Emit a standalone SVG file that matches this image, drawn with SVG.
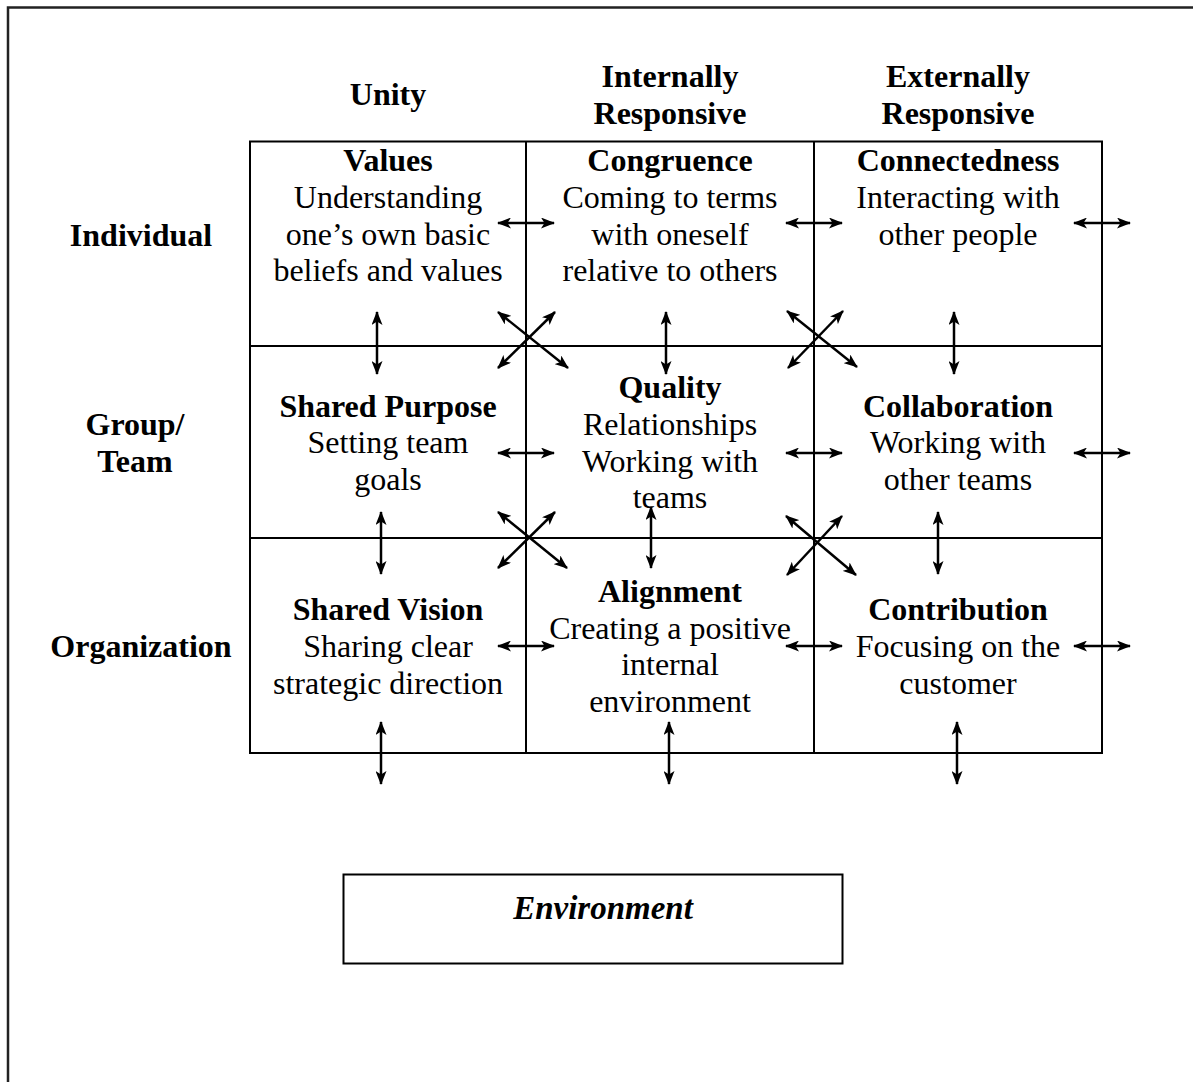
<svg xmlns="http://www.w3.org/2000/svg" width="1193" height="1082" viewBox="0 0 1193 1082">
<style>
text{font-family:"Liberation Serif","Times New Roman",serif;font-size:32px;fill:#000;text-anchor:middle}
.b{font-weight:bold}
.env{font-style:italic;font-weight:bold;font-size:33px}
.grid{stroke:#000;stroke-width:2;fill:none}
.arr{stroke:#000;stroke-width:2.5;fill:none;marker-start:url(#ah);marker-end:url(#ah)}
</style>
<defs>
<marker id="ah" viewBox="0 0 14 11" refX="13" refY="5.5" markerWidth="14" markerHeight="11" markerUnits="userSpaceOnUse" orient="auto-start-reverse">
<path d="M0,0 L14,5.5 L0,11 L3.5,5.5 z" fill="#000"/>
</marker>
</defs>
<rect width="1193" height="1082" fill="#fff"/>
<path d="M8,1082 L8,7.5 L1193,7.5" stroke="#222" stroke-width="2.5" fill="none"/>

<g id="headers">
<text x="388" y="105" class="b">Unity</text>
<text x="670" y="87" class="b">Internally</text>
<text x="670" y="124" class="b">Responsive</text>
<text x="958" y="87" class="b">Externally</text>
<text x="958" y="124" class="b">Responsive</text>
<text x="141" y="246" class="b">Individual</text>
<text x="135" y="435" class="b">Group/</text>
<text x="135" y="472" class="b">Team</text>
<text x="141" y="657" class="b">Organization</text>
</g>

<g id="grid">
<rect class="grid" x="250" y="141.5" width="852" height="611.5"/>
<line class="grid" x1="526" y1="141.5" x2="526" y2="753"/>
<line class="grid" x1="814" y1="141.5" x2="814" y2="753"/>
<line class="grid" x1="250" y1="346" x2="1102" y2="346"/>
<line class="grid" x1="250" y1="538" x2="1102" y2="538"/>
</g>

<g id="values"><text x="388" y="171" class="b">Values</text><text x="388" y="208">Understanding</text><text x="388" y="245">one’s own basic</text><text x="388" y="281">beliefs and values</text></g>
<g id="congruence"><text x="670" y="171" class="b">Congruence</text><text x="670" y="208">Coming to terms</text><text x="670" y="245">with oneself</text><text x="670" y="281">relative to others</text></g>
<g id="connectedness"><text x="958" y="171" class="b">Connectedness</text><text x="958" y="208">Interacting with</text><text x="958" y="245">other people</text></g>

<g id="shared-purpose"><text x="388" y="417" class="b">Shared Purpose</text><text x="388" y="453">Setting team</text><text x="388" y="490">goals</text></g>
<g id="quality"><text x="670" y="398" class="b">Quality</text><text x="670" y="435">Relationships</text><text x="670" y="472">Working with</text><text x="670" y="508">teams</text></g>
<g id="collaboration"><text x="958" y="417" class="b">Collaboration</text><text x="958" y="453">Working with</text><text x="958" y="490">other teams</text></g>

<g id="shared-vision"><text x="388" y="620" class="b">Shared Vision</text><text x="388" y="657">Sharing clear</text><text x="388" y="694">strategic direction</text></g>
<g id="alignment"><text x="670" y="602" class="b">Alignment</text><text x="670" y="639">Creating a positive</text><text x="670" y="675">internal</text><text x="670" y="712">environment</text></g>
<g id="contribution"><text x="958" y="620" class="b">Contribution</text><text x="958" y="657">Focusing on the</text><text x="958" y="694">customer</text></g>

<g id="environment">
<rect x="343.5" y="874.5" width="499" height="89" fill="none" stroke="#000" stroke-width="2"/>
<text x="603" y="919" class="env">Environment</text>
</g>

<g id="connectors">
<line class="arr" x1="498" y1="223" x2="554" y2="223"/>
<line class="arr" x1="786" y1="223" x2="842" y2="223"/>
<line class="arr" x1="1074" y1="223" x2="1130" y2="223"/>
<line class="arr" x1="498" y1="453" x2="554" y2="453"/>
<line class="arr" x1="786" y1="453" x2="842" y2="453"/>
<line class="arr" x1="1074" y1="453" x2="1130" y2="453"/>
<line class="arr" x1="498" y1="646" x2="554" y2="646"/>
<line class="arr" x1="786" y1="646" x2="842" y2="646"/>
<line class="arr" x1="1074" y1="646" x2="1130" y2="646"/>

<line class="arr" x1="377" y1="312" x2="377" y2="374"/>
<line class="arr" x1="666" y1="312" x2="666" y2="374"/>
<line class="arr" x1="954" y1="312" x2="954" y2="374"/>
<line class="arr" x1="381" y1="512" x2="381" y2="574"/>
<line class="arr" x1="651" y1="507" x2="651" y2="568"/>
<line class="arr" x1="938" y1="512" x2="938" y2="574"/>
<line class="arr" x1="381" y1="722" x2="381" y2="784"/>
<line class="arr" x1="669" y1="722" x2="669" y2="784"/>
<line class="arr" x1="957" y1="722" x2="957" y2="784"/>

<line class="arr" x1="498" y1="312" x2="568" y2="368"/>
<line class="arr" x1="555" y1="312" x2="498" y2="368"/>
<line class="arr" x1="787" y1="311" x2="857" y2="367"/>
<line class="arr" x1="843" y1="311" x2="788" y2="368"/>
<line class="arr" x1="498" y1="512" x2="567" y2="568"/>
<line class="arr" x1="555" y1="512" x2="498" y2="568"/>
<line class="arr" x1="786" y1="516" x2="856" y2="575"/>
<line class="arr" x1="842" y1="516" x2="787" y2="575"/>
</g>
</svg>
